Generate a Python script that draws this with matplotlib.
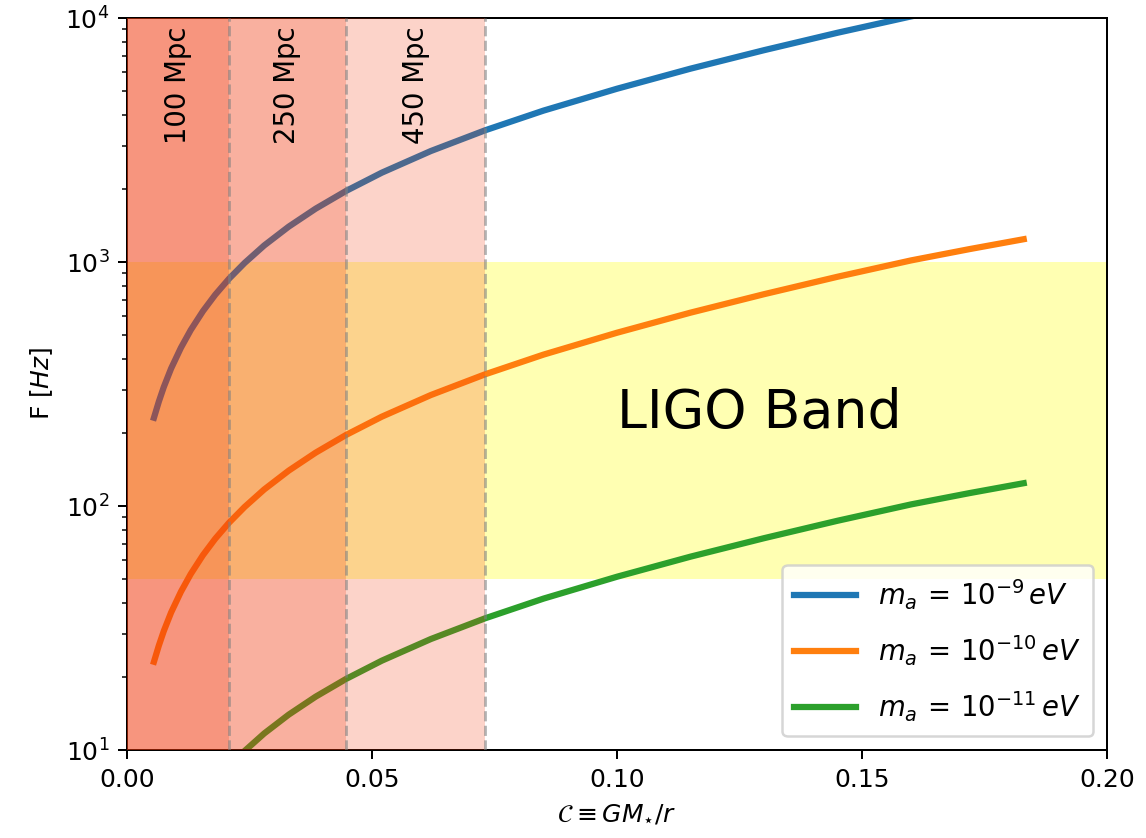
import matplotlib.pyplot as plt

# compactness C = GM/r
C = [0.0055, 0.0065, 0.0075, 0.009, 0.011, 0.013, 0.0155, 0.018, 0.0208,
     0.024, 0.028, 0.033, 0.0385, 0.0447, 0.052, 0.062, 0.0731, 0.085,
     0.100, 0.115, 0.130, 0.145, 0.160, 0.172, 0.183]

# frequency [Hz] for each axion mass
F_m9 = [230, 268, 307, 366, 445, 526, 629, 734, 853,
        991, 1169, 1396, 1654, 1955, 2323, 2849, 3466, 4173,
        5130, 6200, 7380, 8700, 10150, 11300, 12400]
F_m10 = [23, 26.8, 30.7, 36.6, 44.5, 52.6, 62.9, 73.4, 85.3,
         99.1, 116.9, 139.6, 165.4, 195.5, 232.3, 284.9, 346.6, 417.3,
         513, 620, 738, 870, 1015, 1130, 1240]
F_m11 = [2.3, 2.68, 3.07, 3.66, 4.45, 5.26, 6.29, 7.34, 8.53,
         9.91, 11.69, 13.96, 16.54, 19.55, 23.23, 28.49, 34.66, 41.73,
         51.3, 62.0, 73.8, 87.0, 101.5, 113.0, 124.0]

labels = [r"$m_a\,=\,10^{-9}\,eV$", r"$m_a\,=\,10^{-10}\,eV$", r"$m_a\,=\,10^{-11}\,eV$"]

# distance limits (C reach) and LIGO band
dist_C = [0.0208, 0.0447, 0.0731]
dist_labels = ["100 Mpc", "250 Mpc", "450 Mpc"]
ligo_band = [50, 1000]

fig = plt.figure(figsize=(1146 / 180, 838 / 180), dpi=180)
ax = fig.add_axes([127 / 1146, 1 - 750 / 838, 980 / 1146, 732 / 838])

ax.axhspan(ligo_band[0], ligo_band[1], color="yellow", alpha=0.3, lw=0, zorder=1)

for F, lab in zip([F_m9, F_m10, F_m11], labels):
    ax.plot(C, F, lw=2.5, label=lab, zorder=2)

prev = 0.0
for c, lab in zip(dist_C, dist_labels):
    ax.axvspan(0, c, color="#F2380A", alpha=0.22, lw=0, zorder=3)
    ax.axvline(c, color="gray", ls="--", lw=1.1, alpha=0.6, zorder=4)
    ax.text((prev + c) / 2, 5300, lab, rotation=90, ha="center", va="center",
            fontsize=11, zorder=5)
    prev = c

ax.text(0.129, 240, "LIGO Band", fontsize=21.5, ha="center", va="center")

ax.set_yscale("log")
ax.set_xlim(0, 0.20)
ax.set_ylim(10, 1e4)
ax.set_xticks([0.0, 0.05, 0.10, 0.15, 0.20])
ax.set_xlabel(r"$\mathcal{C} \equiv GM_{\star}/r$")
ax.set_ylabel(r"F $[Hz]$")
ax.legend(loc="lower right", fontsize=11, labelspacing=0.78, handlelength=2.25,
          borderpad=0.45)

fig.savefig("out.png", dpi=180)
